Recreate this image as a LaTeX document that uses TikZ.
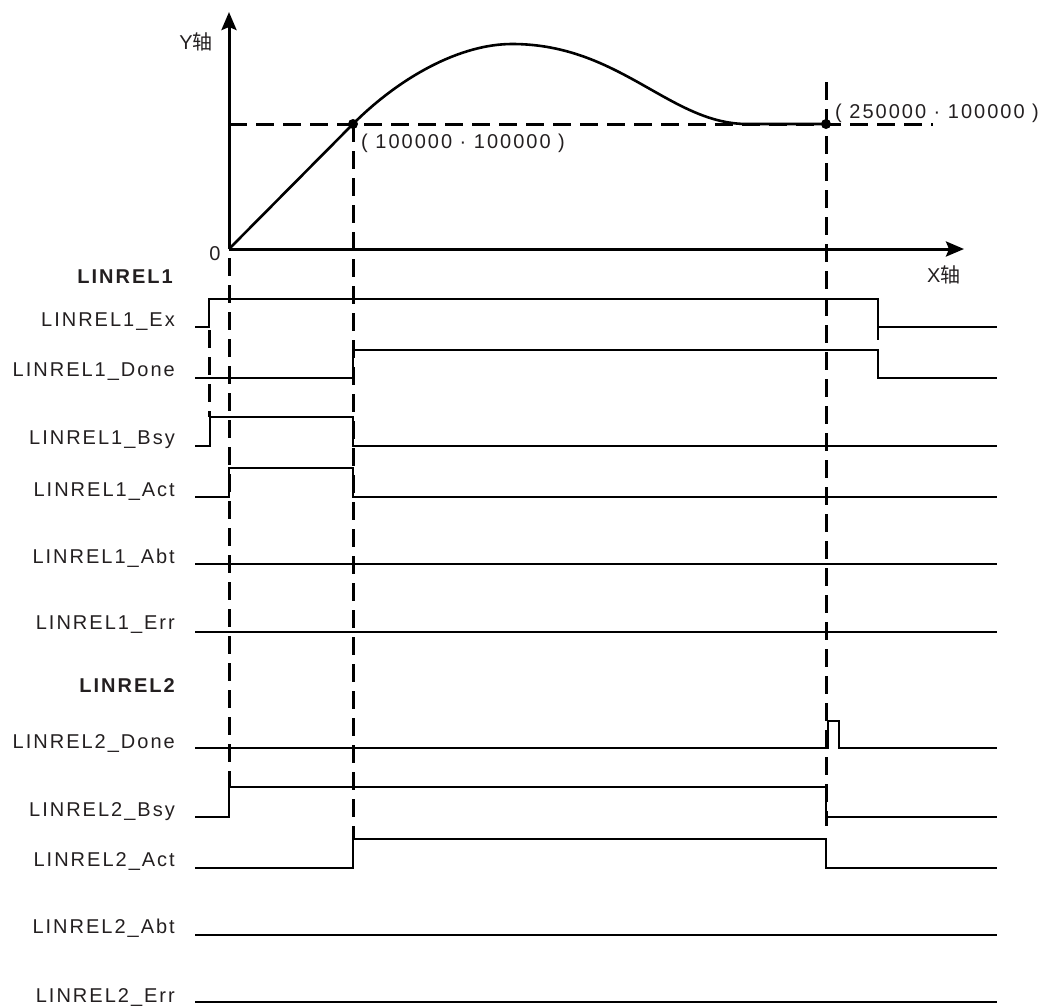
\documentclass[tikz,border=0pt]{standalone}
\usepackage{fontspec}
\setmainfont{Liberation Sans}
\newfontfamily\trk[LetterSpace=10]{Liberation Sans}
\newfontfamily\cjk{Noto Sans CJK SC}
\usetikzlibrary{arrows.meta}
\definecolor{txt}{RGB}{35,31,32}
\tikzset{
  sig/.style={line width=2.4pt, line join=miter},
  dsh/.style={line width=3pt, dash pattern=on 18pt off 9pt},
  axisline/.style={line width=3pt, -{Stealth[length=18pt,width=15pt,inset=3pt]}},
  curveline/.style={line width=2.6pt},
  lbl/.style={anchor=east, inner sep=0pt, text=txt, font=\trk\fontsize{20}{24}\selectfont},
  blbl/.style={lbl, font=\trk\bfseries\fontsize{20}{24}\selectfont},
  pt/.style={anchor=west, inner sep=0pt, text=txt, font=\trk\fontsize{20}{24}\selectfont},
  dot/.style={circle, fill=black, inner sep=0pt, minimum size=10pt},
}
\begin{document}
\begin{tikzpicture}[x=1pt,y=-1pt]
\useasboundingbox (0,0) rectangle (1042,1007);
% key points
\coordinate (O) at (229,249);
\coordinate (Ytip) at (229,12);
\coordinate (Xtip) at (964,249);
\node[dot] (P1) at (353,124) {};
\node[dot] (P2) at (826,124) {};
% dashed guide lines
\draw[dsh] (229,124) -- (933,124);
\draw[dsh] (P1.center) -- (353,839);
\draw[dsh] (826,82) -- (826,826);
\draw[dsh] (229,258) -- (229,787);
\draw[dsh] (209,330) -- (209,417);
% axes
\draw[axisline] (O) -- (Ytip);
\draw[axisline] (O) -- (Xtip);
% curve
\draw[curveline] (O) -- (P1.center) .. controls (400,77) and (460,44) .. (512,44)
   .. controls (620,44) and (670,124) .. (747,124) -- (P2.center);
% axis labels
\node[anchor=east, inner sep=0pt, text=txt, font=\fontsize{20}{24}\selectfont] (ylab) at (213,42) {Y\cjk 轴};
\node[anchor=west, inner sep=0pt, text=txt, font=\fontsize{20}{24}\selectfont] (xlab) at (927,275) {X\cjk 轴};
\node[inner sep=0pt, text=txt, font=\fontsize{20}{24}\selectfont] (zero) at (215,254) {0};
\node[pt] (c1) at (361,143) {( 100000 · 100000 )};
\node[pt] (c2) at (835,113) {( 250000 · 100000 )};
% labels
\node[blbl] (g1) at (173,277) {LINREL1};
\node[lbl] (l1) at (175,322) {LINREL1\_Ex};
\node[lbl] (l2) at (175,372) {LINREL1\_Done};
\node[lbl] (l3) at (175,440) {LINREL1\_Bsy};
\node[lbl] (l4) at (175,492) {LINREL1\_Act};
\node[lbl] (l5) at (175,558) {LINREL1\_Abt};
\node[lbl] (l6) at (175,625) {LINREL1\_Err};
\node[blbl] (g2) at (175,686) {LINREL2};
\node[lbl] (m1) at (175,743) {LINREL2\_Done};
\node[lbl] (m2) at (175,812) {LINREL2\_Bsy};
\node[lbl] (m3) at (175,861) {LINREL2\_Act};
\node[lbl] (m4) at (175,928) {LINREL2\_Abt};
\node[lbl] (m5) at (175,997) {LINREL2\_Err};
% signals
\draw[sig] (195,327) -- (209,327) -- (209,299) -- (878,299) -- (878,327) -- (997,327);
\draw[sig] (878,327) -- (878,340);
\draw[sig] (195,378) -- (353,378) -- (353,350) -- (878,350) -- (878,378) -- (997,378);
\draw[sig] (195,446) -- (210,446) -- (210,417) -- (353,417) -- (353,446) -- (997,446);
\draw[sig] (195,497) -- (229,497) -- (229,468) -- (353,468) -- (353,497) -- (997,497);
\draw[sig] (195,564) -- (997,564);
\draw[sig] (195,632) -- (997,632);
\draw[sig] (195,748) -- (828,748) -- (828,721) -- (839,721) -- (839,748) -- (997,748);
\draw[sig] (195,817) -- (229,817) -- (229,787) -- (826,787) -- (826,817) -- (997,817);
\draw[sig] (195,868) -- (353,868) -- (353,839) -- (826,839) -- (826,868) -- (997,868);
\draw[sig] (195,935) -- (997,935);
\draw[sig] (195,1002) -- (997,1002);
\end{tikzpicture}
\end{document}
